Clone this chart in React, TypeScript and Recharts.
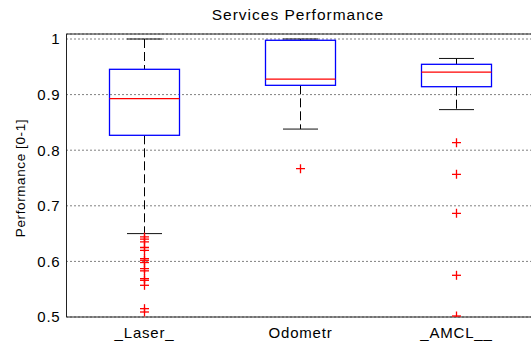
import React from 'react'
import {
  Bar,
  CartesianGrid,
  ComposedChart,
  ReferenceLine,
  Scatter,
  XAxis,
  YAxis,
} from 'recharts'

const categories = ['_Laser_', 'Odometr', '_AMCL__']
const whiskerHigh = [1.0, 1.0, 0.965]
const upperQuartile = [0.9455, 0.9977, 0.9545]
const medians = [0.8926, 0.928, 0.9406]
const lowerQuartile = [0.8268, 0.9167, 0.9142]
const whiskerLow = [0.65, 0.838, 0.873]

const laserOutliers = [
  0.644, 0.64, 0.635, 0.625, 0.62, 0.605, 0.602, 0.598, 0.587, 0.583, 0.569,
  0.566, 0.557, 0.515, 0.509,
]
const odometrOutliers = [0.7667]
const amclOutliers = [0.8135, 0.7567, 0.6865, 0.575, 0.5018]

const yTicks = [0.5, 0.6, 0.7, 0.8, 0.9, 1]
const yMax = 1.009

const FONT = '"Liberation Sans", Arial, Helvetica, sans-serif'

const boxData = categories.map((name, i) => ({
  name,
  range: [whiskerLow[i], whiskerHigh[i]],
  lo: whiskerLow[i],
  q1: lowerQuartile[i],
  med: medians[i],
  q3: upperQuartile[i],
  hi: whiskerHigh[i],
}))

const outlierData = [
  ...laserOutliers.map((value) => ({ name: categories[0], value })),
  ...odometrOutliers.map((value) => ({ name: categories[1], value })),
  ...amclOutliers.map((value) => ({ name: categories[2], value })),
]

// box, whiskers and caps, placed from the bar's own scaled range
const BoxShape = (props: any) => {
  const { x, y, width, height, payload } = props
  const top = Math.min(y, y + height)
  const bottom = Math.max(y, y + height)
  const span = payload.hi - payload.lo
  const toY = (v: number) =>
    span === 0 ? top : top + ((payload.hi - v) / span) * (bottom - top)
  const cx = x + width / 2
  const capHalf = width / 4
  return (
    <g>
      <line x1={cx} x2={cx} y1={toY(payload.hi)} y2={toY(payload.q3)} stroke='#000' strokeDasharray='9 4' />
      <line x1={cx} x2={cx} y1={toY(payload.q1)} y2={toY(payload.lo)} stroke='#000' strokeDasharray='9 4' />
      <line x1={cx - capHalf} x2={cx + capHalf} y1={toY(payload.hi)} y2={toY(payload.hi)} stroke='#111' />
      <line x1={cx - capHalf} x2={cx + capHalf} y1={toY(payload.lo)} y2={toY(payload.lo)} stroke='#111' />
      <rect
        x={x}
        y={toY(payload.q3)}
        width={width}
        height={toY(payload.q1) - toY(payload.q3)}
        fill='none'
        stroke='#0000ff'
        strokeWidth={1.3}
      />
      <line x1={x} x2={x + width} y1={toY(payload.med)} y2={toY(payload.med)} stroke='#ff0000' strokeWidth={1.3} />
    </g>
  )
}

const PlusShape = (props: any) => {
  const { cx, cy } = props
  const r = 4.5
  return (
    <g>
      <line x1={cx - r} x2={cx + r} y1={cy} y2={cy} stroke='#ff0000' strokeWidth={1.3} />
      <line x1={cx} x2={cx} y1={cy - r} y2={cy + r} stroke='#ff0000' strokeWidth={1.3} />
    </g>
  )
}

export default function App() {
  return (
    <div
      style={{
        position: 'absolute',
        left: 0,
        top: 0,
        width: 531,
        height: 341,
        overflow: 'hidden',
        background: '#fff',
      }}
    >
      <ComposedChart
        width={560}
        height={341}
        data={boxData}
        margin={{ top: 34, right: 25.5, bottom: 0, left: 0 }}
      >
        <CartesianGrid vertical={false} stroke='#000' strokeDasharray='1 3' />
        <XAxis
          dataKey='name'
          type='category'
          allowDuplicatedCategory={false}
          height={24}
          tickLine={false}
          tickSize={0}
          tickMargin={10}
          axisLine={{ stroke: '#222' }}
          tick={{ fill: '#000', fontSize: 15, fontFamily: FONT, letterSpacing: 0.8 }}
          interval={0}
        />
        <YAxis
          type='number'
          domain={[0.5, yMax]}
          ticks={yTicks}
          width={66.5}
          tickLine={false}
          tickSize={0}
          tickMargin={6}
          axisLine={{ stroke: '#222' }}
          tick={{ fill: '#000', fontSize: 15, fontFamily: FONT, letterSpacing: 0.8 }}
          tickFormatter={(v: number) => String(v)}
          allowDataOverflow
        />
        <ReferenceLine y={yMax} stroke='#222' />
        <Bar dataKey='range' barSize={70} shape={BoxShape} isAnimationActive={false} />
        <Scatter data={outlierData} dataKey='value' shape={PlusShape} isAnimationActive={false} />
      </ComposedChart>
      <svg
        width={531}
        height={341}
        style={{ position: 'absolute', left: 0, top: 0, pointerEvents: 'none' }}
      >
        <text x={298} y={20} textAnchor='middle' fontSize={15.5} letterSpacing={1} fontFamily={FONT} fill='#000'>
          Services Performance
        </text>
        <text
          x={25}
          y={178}
          transform='rotate(-90, 25, 178)'
          textAnchor='middle'
          fontSize={13.5}
          letterSpacing={0.6}
          fontFamily={FONT}
          fill='#000'
        >
          Performance [0-1]
        </text>
      </svg>
    </div>
  )
}
